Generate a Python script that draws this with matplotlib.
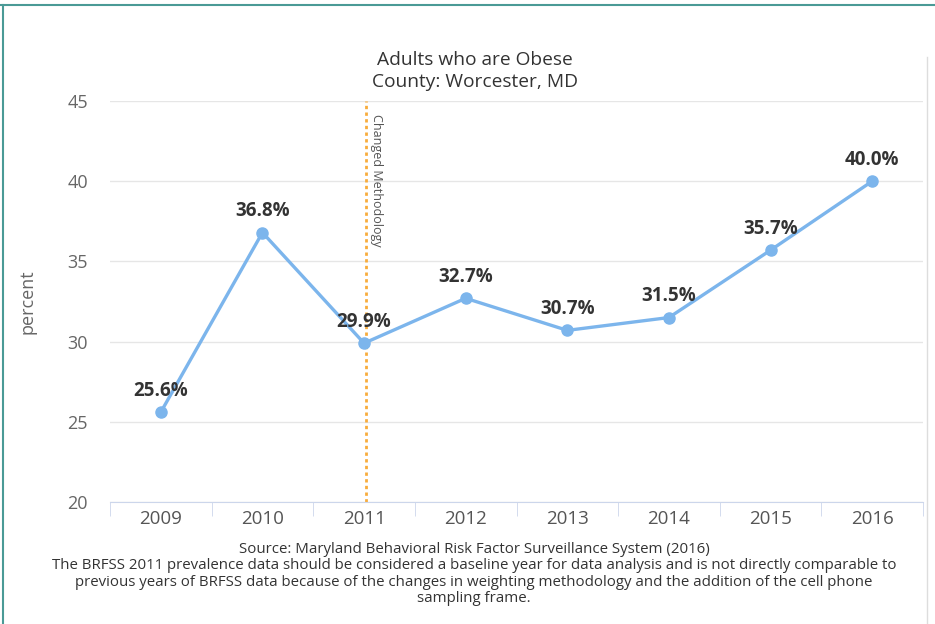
import matplotlib.pyplot as plt
from matplotlib.lines import Line2D

years = ['2009', '2010', '2011', '2012', '2013', '2014', '2015', '2016']
obese_pct = [25.6, 36.8, 29.9, 32.7, 30.7, 31.5, 35.7, 40.0]
y_ticks = [20, 25, 30, 35, 40, 45]
method_change_year = '2011'

title = 'Adults who are Obese\nCounty: Worcester, MD'
footer = ('Source: Maryland Behavioral Risk Factor Surveillance System (2016)\n'
          'The BRFSS 2011 prevalence data should be considered a baseline year for data analysis and is not directly comparable to\n'
          'previous years of BRFSS data because of the changes in weighting methodology and the addition of the cell phone\n'
          'sampling frame.')

plt.rcParams['font.family'] = ['Open Sans', 'DejaVu Sans']

fig = plt.figure(figsize=(9.35, 6.24), dpi=100)
ax = fig.add_axes([110/935, 1-502/624, (923-110)/935, (502-101)/624])

x = list(range(len(years)))
ax.plot(x, obese_pct, color='#7cb5ec', lw=2.4, marker='o', ms=8, zorder=3)
for xi, v in zip(x, obese_pct):
    ax.annotate(f'{v:.1f}%', (xi, v), xytext=(0, 8), textcoords='offset points',
                ha='center', va='bottom', fontsize=13.5, fontweight='bold', color='#333333', zorder=4)

# changed methodology marker
xm = years.index(method_change_year)
ax.axvline(xm + 0.02, color='#f8ac3c', ls=(0, (1.2, 1.2)), lw=2, zorder=2)
ax.text(xm + 0.06, 44.2, 'Changed Methodology', rotation=-90, ha='left', va='top',
        fontsize=9, color='#555555')

ax.set_xlim(-0.5, len(years) - 0.5)
ax.set_ylim(20, 45)
ax.set_yticks(y_ticks)
ax.set_xticks(x)
ax.set_xticklabels(years)
ax.set_xticks([i - 0.5 for i in range(len(years) + 1)], minor=True)
ax.grid(axis='y', color='#e6e6e6', lw=1)
ax.set_axisbelow(True)
for s in ['top', 'right', 'left']:
    ax.spines[s].set_visible(False)
ax.spines['bottom'].set_color('#ccd6eb')
ax.tick_params(axis='y', length=0, labelsize=13, labelcolor='#666666', pad=16)
ax.tick_params(axis='x', which='major', length=0, labelsize=13.5, labelcolor='#555555', pad=6)
ax.tick_params(axis='x', which='minor', length=10, color='#ccd6eb')
ax.set_ylabel('percent', fontsize=13, color='#666666', labelpad=22)

fig.text(475/935, 1-71/624, title, ha='center', va='center', fontsize=13.8,
         color='#333333', linespacing=1.3)
fig.text(474/935, 1-574/624, footer, ha='center', va='center', fontsize=10.8,
         color='#333333', linespacing=1.12)

# frame of the screenshot
fig.add_artist(Line2D([0, 1], [1-5/624, 1-5/624], color='#4a9a96', lw=1.5))
fig.add_artist(Line2D([3/935, 3/935], [0, 1-5/624], color='#4a9a96', lw=1.5))
fig.add_artist(Line2D([927/935, 927/935], [0, 1-57/624], color='#dddddd', lw=1))

fig.savefig('out.png', dpi=100, facecolor='white')
